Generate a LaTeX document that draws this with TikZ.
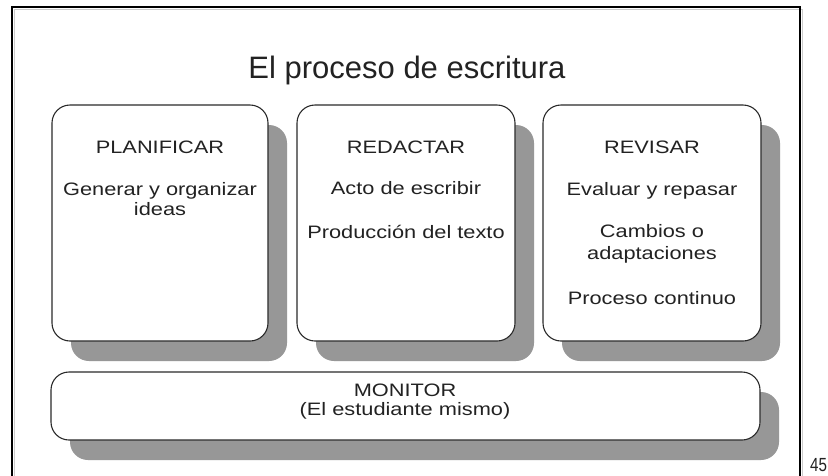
\documentclass[tikz,border=0pt]{standalone}
\usepackage{fontspec}
\setmainfont{Liberation Sans}
\newfontfamily\boxfont{Liberation Sans}[FakeStretch=1.21]
\newfontfamily\narrowfont{Liberation Sans}[FakeStretch=0.8]
\usetikzlibrary{shadows}
\definecolor{boxline}{HTML}{2A2A2A}
\definecolor{shadowgray}{HTML}{979797}
\definecolor{txt}{HTML}{222222}
\begin{document}
\begin{tikzpicture}[x=1pt,y=-1pt,
  box/.style={draw=boxline, line width=1.1pt, fill=white, rounded corners=18pt, inner sep=0pt,
    drop shadow={shadow xshift=19pt, shadow yshift=-20pt, fill=shadowgray, opacity=1}},
  lbl/.style={font=\boxfont\fontsize{18}{20}\selectfont, text=txt, anchor=base, inner sep=0pt}]
\useasboundingbox (0,0) rectangle (828,475);
\fill[white] (0,0) rectangle (828,475);
\clip (0,0) rectangle (828,475);
% frame
\draw[gray!40, line width=1pt] (14.5,490) |- (802.5,9.5) -- (802.5,490);
\draw[black, line width=2pt] (12,490) |- (800,7) -- (800,490);
% title
\node[font=\fontsize{31}{36}\selectfont, text=txt, anchor=base, inner sep=0pt] (title) at (407,78) {El proceso de escritura};
% boxes
\node[box, minimum width=216pt, minimum height=236pt] (plan) at (160,223) {};
\node[box, minimum width=218pt, minimum height=236pt] (red) at (406,223) {};
\node[box, minimum width=218pt, minimum height=236pt] (rev) at (652,223) {};
\node[box, minimum width=709pt, minimum height=68pt] (mon) at (405.5,406) {};
% texts
\node[lbl] (t1) at (160,153) {PLANIFICAR};
\node[lbl] (t1a) at (160,195) {Generar y organizar};
\node[lbl] (t1b) at (160,215) {ideas};
\node[lbl] (t2) at (406,153) {REDACTAR};
\node[lbl] (t2a) at (406,194) {Acto de escribir};
\node[lbl] (t2b) at (406,238) {Producción del texto};
\node[lbl] (t3) at (652,153) {REVISAR};
\node[lbl] (t3a) at (652,195) {Evaluar y repasar};
\node[lbl] (t3b) at (652,237) {Cambios o};
\node[lbl] (t3c) at (652,259) {adaptaciones};
\node[lbl] (t3d) at (652,304) {Proceso continuo};
\node[lbl] (m1) at (405,396) {MONITOR};
\node[lbl] (m2) at (405,415) {(El estudiante mismo)};
\node[font=\narrowfont\fontsize{19}{20}\selectfont, text=txt, anchor=base west, inner sep=0pt] (pg) at (810,471) {45};
\end{tikzpicture}
\end{document}
